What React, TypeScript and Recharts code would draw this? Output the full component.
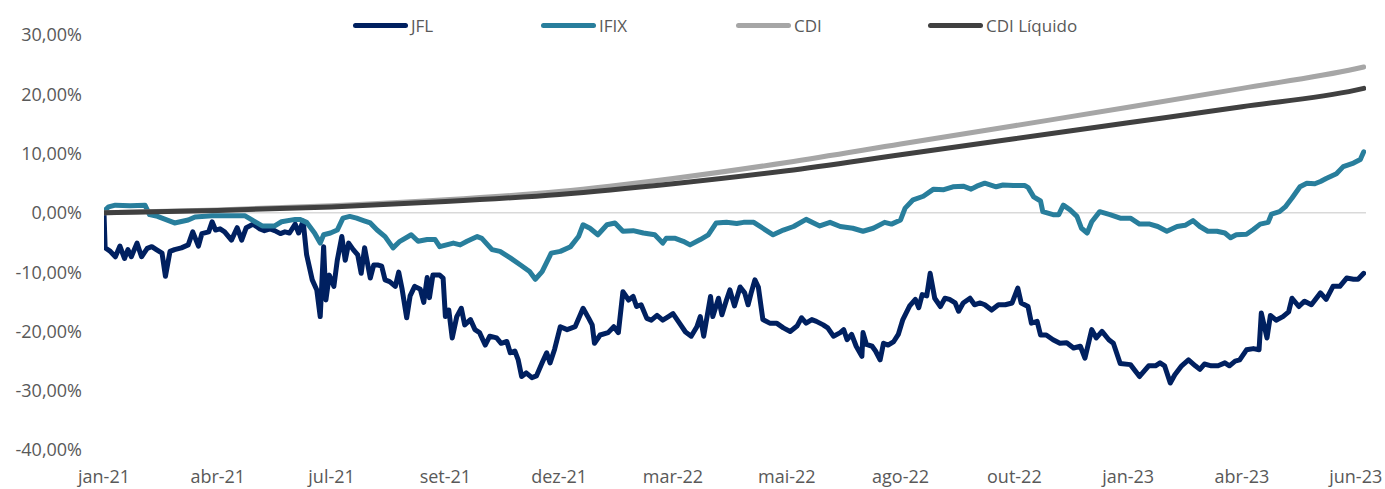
import React from 'react';
import { LineChart, Line, XAxis, YAxis, ReferenceLine } from 'recharts';

// x is a time index: one unit = one x-axis label interval
const xTickLabels = ['jan-21', 'abr-21', 'jul-21', 'set-21', 'dez-21', 'mar-22', 'mai-22', 'ago-22', 'out-22', 'jan-23', 'abr-23', 'jun-23'];
const yTicks = [-40, -30, -20, -10, 0, 10, 20, 30];

const jflValues: [number, number][] = [
  [0, 0], [0.01, -5.9], [0.05, -6.4], [0.1, -7.4], [0.14, -5.6], [0.18, -7.7], [0.21, -6.2], [0.24, -7.4], [0.29, -5.1], [0.33, -7.4],
  [0.38, -6.0], [0.42, -5.7], [0.46, -6.2], [0.51, -6.8], [0.54, -10.7], [0.58, -6.5], [0.62, -6.2], [0.68, -5.9], [0.74, -5.4], [0.78, -3.2],
  [0.83, -5.6], [0.86, -3.5], [0.92, -3.2], [0.95, -1.5], [0.98, -2.9], [1.02, -2.7], [1.06, -3.2], [1.12, -4.6], [1.17, -2.5], [1.21, -4.6],
  [1.25, -2.5], [1.31, -1.9], [1.37, -2.7], [1.41, -3.0], [1.46, -2.7], [1.5, -3.0], [1.55, -3.5], [1.59, -3.2], [1.63, -3.4], [1.68, -1.9],
  [1.71, -3.4], [1.75, -1.4], [1.78, -7.0], [1.83, -11.3], [1.87, -13.0], [1.9, -17.5], [1.93, -5.7], [1.95, -14.7], [1.98, -10.5], [2.02, -12.4],
  [2.05, -8.0], [2.09, -4.0], [2.12, -8.0], [2.15, -5.1], [2.19, -6.2], [2.23, -7.1], [2.26, -10.2], [2.29, -5.9], [2.34, -11.0], [2.37, -8.8],
  [2.41, -8.8], [2.44, -9.0], [2.47, -11.3], [2.51, -11.6], [2.56, -12.4], [2.59, -10.0], [2.62, -12.9], [2.66, -17.7], [2.69, -14.0], [2.73, -12.4],
  [2.78, -12.9], [2.81, -15.1], [2.84, -10.9], [2.86, -14.3], [2.89, -10.5], [2.95, -10.5], [2.98, -11.0], [3.0, -17.5], [3.03, -16.4], [3.06, -21.1],
  [3.1, -17.5], [3.14, -16.1], [3.17, -18.9], [3.22, -18.0], [3.26, -19.7], [3.3, -20.2], [3.35, -22.3], [3.39, -20.8], [3.45, -21.1], [3.49, -22.0],
  [3.54, -21.7], [3.57, -23.6], [3.61, -23.3], [3.64, -24.8], [3.67, -27.6], [3.71, -27.0], [3.76, -27.8], [3.8, -27.5], [3.85, -25.3], [3.89, -23.6],
  [3.92, -25.3], [3.96, -23.0], [4.01, -19.2], [4.07, -19.7], [4.14, -19.2], [4.21, -16.1], [4.26, -17.8], [4.29, -18.9], [4.31, -22.0], [4.36, -20.6],
  [4.43, -20.2], [4.48, -19.2], [4.52, -20.2], [4.56, -13.3], [4.61, -14.7], [4.65, -14.1], [4.68, -15.8], [4.72, -15.5], [4.77, -17.8], [4.81, -18.1],
  [4.86, -17.3], [4.91, -18.1], [4.96, -17.5], [5.0, -17.0], [5.06, -18.7], [5.11, -20.1], [5.16, -20.8], [5.21, -19.2], [5.24, -17.5], [5.27, -20.8],
  [5.33, -14.1], [5.35, -17.5], [5.4, -14.4], [5.43, -17.2], [5.47, -14.7], [5.5, -13.0], [5.54, -15.7], [5.59, -12.5], [5.63, -13.5], [5.66, -15.5],
  [5.69, -13.3], [5.72, -11.3], [5.75, -12.5], [5.79, -18.0], [5.85, -18.6], [5.91, -18.6], [5.97, -19.4], [6.03, -20.0], [6.09, -19.1], [6.13, -17.7],
  [6.17, -18.6], [6.22, -18.0], [6.26, -18.3], [6.32, -18.9], [6.36, -19.4], [6.41, -20.8], [6.47, -20.2], [6.5, -19.7], [6.53, -21.4], [6.57, -20.5],
  [6.61, -22.5], [6.66, -24.2], [6.67, -20.2], [6.7, -22.2], [6.75, -22.5], [6.78, -23.3], [6.82, -24.8], [6.85, -22.0], [6.89, -22.3], [6.94, -21.7],
  [6.98, -20.5], [7.02, -18.0], [7.08, -15.7], [7.13, -14.6], [7.16, -16.0], [7.19, -13.8], [7.23, -14.0], [7.26, -10.2], [7.3, -14.4], [7.35, -15.8],
  [7.39, -14.4], [7.43, -14.6], [7.48, -15.2], [7.51, -16.6], [7.55, -15.2], [7.61, -14.4], [7.65, -15.5], [7.7, -15.2], [7.74, -15.5], [7.8, -16.4],
  [7.86, -15.5], [7.92, -15.5], [7.98, -15.2], [8.03, -12.7], [8.06, -15.2], [8.12, -15.8], [8.15, -18.6], [8.2, -18.3], [8.23, -20.6], [8.28, -20.6],
  [8.34, -21.4], [8.4, -22.0], [8.46, -21.9], [8.52, -22.8], [8.58, -22.5], [8.62, -24.5], [8.68, -19.7], [8.72, -21.1], [8.77, -20.0], [8.83, -21.4],
  [8.87, -22.0], [8.93, -25.4], [9.02, -25.6], [9.1, -27.6], [9.18, -25.8], [9.24, -25.8], [9.28, -25.3], [9.32, -25.8], [9.37, -28.7], [9.41, -27.3],
  [9.47, -25.8], [9.53, -24.8], [9.59, -25.8], [9.63, -26.4], [9.67, -25.5], [9.73, -25.8], [9.79, -25.8], [9.85, -25.3], [9.89, -25.8], [9.94, -25.0],
  [9.98, -24.8], [10.04, -23.1], [10.1, -22.9], [10.15, -23.1], [10.17, -16.9], [10.22, -21.1], [10.25, -17.3], [10.3, -18.1], [10.36, -17.5], [10.41, -16.7],
  [10.44, -14.4], [10.5, -15.8], [10.55, -14.9], [10.61, -15.5], [10.69, -13.5], [10.74, -14.6], [10.8, -12.4], [10.86, -12.4], [10.92, -11.0], [10.98, -11.2],
  [11.02, -11.2], [11.07, -10.2],
];

const ifixValues: [number, number][] = [
  [0, 0.3], [0.04, 1.0], [0.1, 1.3], [0.23, 1.2], [0.36, 1.3], [0.4, -0.3], [0.47, -0.6], [0.62, -1.7], [0.74, -1.2], [0.8, -0.7],
  [0.95, -0.5], [1.24, -0.5], [1.3, -1.2], [1.39, -2.2], [1.5, -2.2], [1.56, -1.5], [1.68, -1.1], [1.72, -1.1], [1.78, -1.6], [1.85, -3.4],
  [1.9, -5.1], [1.93, -3.7], [1.99, -3.4], [2.05, -2.9], [2.1, -0.9], [2.16, -0.6], [2.22, -0.9], [2.28, -1.3], [2.34, -1.7], [2.4, -2.9],
  [2.47, -4.0], [2.54, -5.9], [2.6, -4.8], [2.7, -3.7], [2.76, -4.8], [2.84, -4.5], [2.91, -4.5], [2.95, -5.7], [3.01, -5.4], [3.07, -5.1],
  [3.13, -5.4], [3.19, -4.8], [3.28, -4.0], [3.32, -4.3], [3.41, -6.2], [3.48, -6.5], [3.57, -7.6], [3.66, -8.8], [3.74, -9.9], [3.79, -11.2],
  [3.85, -9.9], [3.93, -6.8], [4.01, -6.5], [4.1, -5.7], [4.17, -4.0], [4.21, -2.0], [4.27, -2.6], [4.34, -3.7], [4.42, -2.0], [4.49, -1.7],
  [4.56, -3.1], [4.65, -3.0], [4.74, -3.4], [4.84, -3.7], [4.91, -5.1], [4.94, -4.3], [5.02, -4.3], [5.09, -4.8], [5.15, -5.4], [5.24, -4.5],
  [5.31, -3.7], [5.38, -1.7], [5.47, -1.6], [5.56, -1.8], [5.62, -1.6], [5.71, -1.6], [5.79, -2.6], [5.88, -3.7], [5.97, -2.9], [6.06, -2.3],
  [6.17, -1.1], [6.29, -2.2], [6.38, -1.6], [6.47, -2.3], [6.58, -2.6], [6.67, -3.1], [6.76, -2.6], [6.86, -1.6], [6.92, -1.9], [7.0, -1.2],
  [7.04, 0.8], [7.11, 2.2], [7.2, 2.8], [7.29, 4.0], [7.38, 3.9], [7.46, 4.4], [7.55, 4.5], [7.62, 4.0], [7.67, 4.5], [7.74, 5.0],
  [7.84, 4.4], [7.9, 4.7], [7.99, 4.6], [8.09, 4.6], [8.12, 4.3], [8.17, 2.7], [8.23, 2.0], [8.25, 0.2], [8.34, -0.3], [8.39, -0.3],
  [8.43, 1.3], [8.49, 0.5], [8.55, -0.6], [8.59, -2.6], [8.64, -3.4], [8.68, -1.5], [8.75, 0.2], [8.84, -0.3], [8.93, -0.9], [9.02, -0.9],
  [9.1, -1.9], [9.19, -1.9], [9.26, -2.3], [9.34, -3.1], [9.43, -2.3], [9.5, -2.1], [9.57, -1.3], [9.63, -2.3], [9.7, -3.1], [9.78, -3.1],
  [9.85, -3.4], [9.9, -4.2], [9.95, -3.7], [10.04, -3.6], [10.1, -2.8], [10.16, -1.9], [10.23, -1.6], [10.26, -0.2], [10.33, 0.2], [10.38, 1.0],
  [10.44, 2.5], [10.51, 4.4], [10.57, 5.0], [10.64, 4.9], [10.69, 5.3], [10.74, 5.8], [10.83, 6.6], [10.89, 7.8], [10.98, 8.4], [11.04, 9.0],
  [11.07, 10.3],
];

const cdiValues: [number, number][] = [
  [0, 0], [1, 0.5], [2, 1.2], [3, 2.2], [4, 3.6], [5, 5.8], [6, 8.5], [7, 11.6], [8, 14.7], [9, 17.8], [10, 21.0], [11, 24.3], [11.07, 24.6],
];

const cdiLiqValues: [number, number][] = [
  [0, 0], [1, 0.4], [2, 1.0], [3, 1.9], [4, 3.1], [5, 4.9], [6, 7.1], [7, 9.8], [8, 12.5], [9, 15.2], [10, 17.9], [11, 20.7], [11.07, 21.0],
];

const toRows = (arr: [number, number][]) => arr.map(([t, v]) => ({ t, v }));
const jflData = toRows(jflValues);
const ifixData = toRows(ifixValues);
const cdiData = toRows(cdiValues);
const cdiLiqData = toRows(cdiLiqValues);

const FONT = '"Open Sans", sans-serif';
const TEXT = '#595959';

const legendItems = [
  { name: 'JFL', color: '#002060', left: 353 },
  { name: 'IFIX', color: '#287E9C', left: 541 },
  { name: 'CDI', color: '#A6A6A6', left: 736 },
  { name: 'CDI Líquido', color: '#404040', left: 928 },
];

const fmtPct = (v: number) => `${v.toFixed(2).replace('.', ',')}%`;

export default function App() {
  return (
    <div style={{ position: 'absolute', left: 0, top: 0, width: 1385, height: 489, background: '#fff', fontFamily: FONT }}>
      <LineChart width={1385} height={489} margin={{ top: 35, right: 19, left: 0, bottom: 0 }}>
        <XAxis
          type="number"
          dataKey="t"
          domain={[0, 11.09]}
          ticks={xTickLabels.map((_, i) => i)}
          tickFormatter={(v: number) => xTickLabels[v] ?? ''}
          axisLine={false}
          tickLine={false}
          tickSize={0}
          tickMargin={20}
          height={39}
          allowDataOverflow
          interval={0}
          tick={{ fill: TEXT, fontSize: 18, fontFamily: FONT }}
        />
        <YAxis
          type="number"
          domain={[-40, 30]}
          ticks={yTicks}
          tickFormatter={fmtPct}
          axisLine={false}
          tickLine={false}
          tickSize={0}
          tickMargin={22}
          width={104}
          interval={0}
          tick={{ fill: TEXT, fontSize: 18, fontFamily: FONT }}
        />
        <ReferenceLine y={0} stroke="#D9D9D9" strokeWidth={1.5} />
        <Line data={jflData} dataKey="v" type="linear" stroke="#002060" strokeWidth={5} dot={false} isAnimationActive={false} strokeLinejoin="round" strokeLinecap="round" />
        <Line data={ifixData} dataKey="v" type="linear" stroke="#287E9C" strokeWidth={5} dot={false} isAnimationActive={false} strokeLinejoin="round" strokeLinecap="round" />
        <Line data={cdiData} dataKey="v" type="monotone" stroke="#A6A6A6" strokeWidth={5} dot={false} isAnimationActive={false} strokeLinecap="round" />
        <Line data={cdiLiqData} dataKey="v" type="monotone" stroke="#404040" strokeWidth={5} dot={false} isAnimationActive={false} strokeLinecap="round" />
      </LineChart>
      {legendItems.map((it) => (
        <div key={it.name} style={{ position: 'absolute', left: it.left, top: 13, height: 24, display: 'flex', alignItems: 'center' }}>
          <div style={{ width: 55, height: 5, borderRadius: 3, background: it.color }} />
          <span style={{ marginLeft: 3, fontSize: 17, color: TEXT, fontFamily: FONT, whiteSpace: 'nowrap' }}>{it.name}</span>
        </div>
      ))}
    </div>
  );
}
